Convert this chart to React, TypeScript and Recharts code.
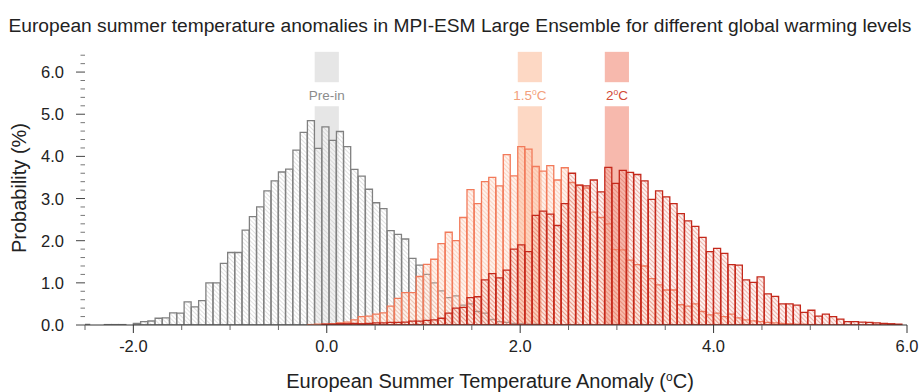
import { ComposedChart, Bar, XAxis, YAxis, ReferenceArea } from 'recharts';

// histogram bins: 0.075 degC wide, bin k spans [-2.0 + k*0.075, -2.0 + (k+1)*0.075]
const BIN_ORIGIN = -2.0;
const BIN_WIDTH = 0.075;
const FIRST_BIN = -7;
const LAST_BIN = 105;

// probabilities (%) per bin
const preFirstBin = -7;
const preIndustrial = [
  0.015, 0, 0, 0.01, 0.01, 0.01, 0,
  0.04, 0.08, 0.095, 0.16, 0.17, 0.29, 0.28, 0.55, 0.43, 0.58,
  1.0, 1.0, 1.46, 1.72, 1.72, 2.25, 2.57, 2.8, 3.18, 3.42,
  3.63, 3.7, 4.15, 4.57, 4.85, 4.19, 4.7, 4.38, 4.59, 4.23,
  3.69, 3.53, 3.22, 2.9, 2.76, 2.24, 2.15, 2.04, 1.58, 1.42,
  1.2, 1.0, 0.81, 0.65, 0.69, 0.47, 0.5, 0.32, 0.28, 0.13,
  0.08, 0.06, 0.04, 0.03, 0.02, 0.02, 0.01, 0.01,
];

const warm15FirstBin = 24;
const warming15 = [
  0.01, 0.02, 0.02, 0.03, 0.05, 0.07, 0.12, 0.2, 0.21, 0.26,
  0.29, 0.45, 0.63, 0.77, 0.77, 1.15, 1.44, 1.56, 1.93, 2.2,
  2.0, 2.55, 3.21, 2.88, 3.4, 3.5, 3.3, 4.04, 3.54, 4.23,
  4.17, 3.76, 3.65, 3.78, 3.44, 3.73, 3.38, 3.32, 3.25, 2.68,
  2.55, 2.4, 1.79, 1.78, 1.54, 1.43, 1.4, 1.1, 0.95, 0.83,
  0.83, 0.48, 0.45, 0.5, 0.32, 0.24, 0.28, 0.2, 0.26, 0.17,
  0.12, 0.1, 0.08, 0.06, 0.05, 0.04, 0.03, 0.02, 0.02, 0.01,
];

const warm20FirstBin = 26;
const warming20 = [
  0.02, 0.02, 0.03, 0.03, 0.04, 0.03, 0.04, 0.05, 0.05, 0.06,
  0.06, 0.07, 0.09, 0.09, 0.11, 0.12, 0.16, 0.28, 0.4, 0.42,
  0.65, 0.67, 1.07, 1.22, 1.12, 1.3, 1.8, 1.9, 1.74, 2.6,
  2.7, 2.63, 2.36, 2.88, 3.6, 3.32, 3.3, 3.44, 3.16, 3.74,
  3.36, 3.67, 3.62, 3.57, 3.42, 2.98, 3.18, 3.04, 2.88, 2.64,
  2.47, 2.34, 2.08, 1.74, 1.82, 1.7, 1.43, 1.42, 1.07, 1.01,
  1.14, 0.74, 0.68, 0.5, 0.5, 0.47, 0.3, 0.35, 0.21, 0.26,
  0.2, 0.14, 0.08, 0.08, 0.07, 0.06, 0.05, 0.04, 0.03, 0.02,
];

// warming level markers (degC ranges) and their labels
const levelNames = ['Pre-in', '1.5', '2'];
const levelFrom = [-0.125, 1.975, 2.875];
const levelTo = [0.125, 2.225, 3.125];
const levelText = ['#8c8c8c', '#f3a07c', '#d24a36'];
const levelFill = ['#e6e6e6', '#fdd8c4', '#f7b9ad'];

// labelled ticks plus unlabelled minor ticks
const xMajorTicks = [-2, 0, 2, 4, 6];
const xAllTicks = [-2.5, -2, -1.5, -1, -0.5, 0, 0.5, 1, 1.5, 2, 2.5, 3, 3.5, 4, 4.5, 5, 5.5, 6];
const yMajorTicks = [0, 1, 2, 3, 4, 5, 6];
const yAllTicks = [
  0, 0.2, 0.4, 0.6, 0.8, 1, 1.2, 1.4, 1.6, 1.8, 2, 2.2, 2.4, 2.6, 2.8, 3, 3.2, 3.4, 3.6, 3.8,
  4, 4.2, 4.4, 4.6, 4.8, 5, 5.2, 5.4, 5.6, 5.8, 6, 6.2, 6.4,
];

const valueAt = (arr: number[], first: number, k: number) => {
  const v = arr[k - first];
  return v ? v : null;
};

const rows: any[] = [];
for (let k = FIRST_BIN; k <= LAST_BIN; k++) {
  rows.push({
    x: +(BIN_ORIGIN + (k + 0.5) * BIN_WIDTH).toFixed(4),
    pre: valueAt(preIndustrial, preFirstBin, k),
    w15: valueAt(warming15, warm15FirstBin, k),
    w20: valueAt(warming20, warm20FirstBin, k),
  });
}

const FONT = '"Liberation Sans", Arial, Helvetica, sans-serif';
const isMajor = (list: number[], v: number) => list.some((m) => Math.abs(m - v) < 1e-6);

const XTick = (props: any) => {
  const { x, y, payload } = props;
  const major = isMajor(xMajorTicks, payload.value);
  return (
    <g>
      <line x1={x} y1={y} x2={x} y2={y + (major ? 8 : 5)} stroke={major ? '#333' : '#666'} />
      {major && (
        <text x={x} y={y + 27} textAnchor="middle" fontSize={16.5} fill="#222" fontFamily={FONT}>
          {payload.value.toFixed(1)}
        </text>
      )}
    </g>
  );
};

const YTick = (props: any) => {
  const { x, y, payload } = props;
  const major = isMajor(yMajorTicks, payload.value);
  return (
    <g>
      <line x1={x - (major ? 9 : 4.5)} y1={y} x2={x} y2={y} stroke={major ? '#444' : '#777'} />
      {major && (
        <text x={x - 21} y={y + 6} textAnchor="end" fontSize={16.5} fill="#222" fontFamily={FONT}>
          {payload.value.toFixed(1)}
        </text>
      )}
    </g>
  );
};

const renderYLabel = (props: any) => {
  const vb = props.viewBox;
  const cx = vb.x + 19;
  const cy = vb.y + vb.height / 2;
  return (
    <text x={cx} y={cy} transform={`rotate(-90 ${cx} ${cy})`} textAnchor="middle" dominantBaseline="central"
      fontSize={20} fill="#222" fontFamily={FONT}>
      Probability (%)
    </text>
  );
};

const renderXLabel = (props: any) => {
  const vb = props.viewBox;
  return (
    <text x={vb.x + vb.width / 2 - 6} y={vb.y + 63} textAnchor="middle" fontSize={20} fill="#222" fontFamily={FONT}>
      European Summer Temperature Anomaly (<tspan dy={-7} fontSize={12}>o</tspan><tspan dy={7}>C</tspan>)
    </text>
  );
};

const levelLabel = (i: number) => (props: any) => {
  const vb = props.viewBox;
  const cx = vb.x + vb.width / 2;
  const y = vb.y + vb.height + 18;
  if (i === 0) {
    return <text x={cx} y={y} textAnchor="middle" fontSize={13.5} fill={levelText[i]} fontFamily={FONT}>{levelNames[i]}</text>;
  }
  return (
    <text x={cx} y={y} textAnchor="middle" fontSize={13.5} fill={levelText[i]} fontFamily={FONT}>
      {levelNames[i]}<tspan dy={-5} fontSize={8.5}>o</tspan><tspan dy={5}>C</tspan>
    </text>
  );
};

export default function App() {
  return (
    <div style={{ position: 'absolute', left: 0, top: 0, width: 920, height: 392, background: '#fff' }}>
      <div style={{
        position: 'absolute', left: 0, top: 16, width: 920, textAlign: 'center', whiteSpace: 'nowrap',
        fontFamily: FONT, fontSize: 19.2, lineHeight: '20px', color: '#222',
      }}>
        European summer temperature anomalies in MPI-ESM Large Ensemble for different global warming levels
      </div>
      <ComposedChart width={920} height={392} data={rows} margin={{ top: 51, right: 13, bottom: 0, left: 0 }}
        barCategoryGap={0} barGap={0}>
        <defs>
          <pattern id="hatchPre" patternUnits="userSpaceOnUse" width={3} height={3} patternTransform="rotate(-45)">
            <rect width={3} height={3} fill="rgba(255,255,255,0.45)" />
            <line x1={0} y1={0} x2={0} y2={3} stroke="#b4b4b4" strokeWidth={0.8} />
          </pattern>
          <pattern id="hatch15" patternUnits="userSpaceOnUse" width={3} height={3} patternTransform="rotate(-45)">
            <rect width={3} height={3} fill="rgba(252,205,180,0.25)" />
            <line x1={0} y1={0} x2={0} y2={3} stroke="#f6a688" strokeWidth={0.8} />
          </pattern>
          <pattern id="hatch20" patternUnits="userSpaceOnUse" width={3} height={3} patternTransform="rotate(-45)">
            <rect width={3} height={3} fill="rgba(240,160,150,0.15)" />
            <line x1={0} y1={0} x2={0} y2={3} stroke="#d65a48" strokeWidth={0.8} />
          </pattern>
        </defs>

        <XAxis xAxisId="w15" type="number" dataKey="x" domain={[-2.5, 6]} allowDataOverflow hide height={0} />
        <XAxis xAxisId="w20" type="number" dataKey="x" domain={[-2.5, 6]} allowDataOverflow hide height={0} />
        <XAxis type="number" dataKey="x" domain={[-2.5, 6]} allowDataOverflow height={67}
          ticks={xAllTicks} interval={0} tickSize={0} tickMargin={0} tickLine={false}
          axisLine={{ stroke: '#333' }} tick={<XTick />} label={renderXLabel} />

        <YAxis type="number" domain={[0, 6.5]} allowDataOverflow width={85}
          ticks={yAllTicks} interval={0} tickSize={0} tickMargin={0} tickLine={false}
          axisLine={false} tick={<YTick />} label={renderYLabel} />

        {levelNames.map((name, i) => (
          <ReferenceArea key={name + 'top'} x1={levelFrom[i]} x2={levelTo[i]} y1={5.76} y2={6.48}
            fill={levelFill[i]} fillOpacity={1} stroke="none" label={levelLabel(i)} />
        ))}
        {levelNames.map((name, i) => (
          <ReferenceArea key={name + 'low'} x1={levelFrom[i]} x2={levelTo[i]} y1={0} y2={5.19}
            fill={levelFill[i]} fillOpacity={1} stroke="none" />
        ))}

        <Bar dataKey="pre" fill="url(#hatchPre)" stroke="#808080" strokeWidth={1.3} isAnimationActive={false} />
        <Bar dataKey="w15" xAxisId="w15" fill="url(#hatch15)" stroke="#f27a5a" strokeWidth={1.3} isAnimationActive={false} />
        <Bar dataKey="w20" xAxisId="w20" fill="url(#hatch20)" stroke="#c4281b" strokeWidth={1.3} isAnimationActive={false} />
      </ComposedChart>
    </div>
  );
}
